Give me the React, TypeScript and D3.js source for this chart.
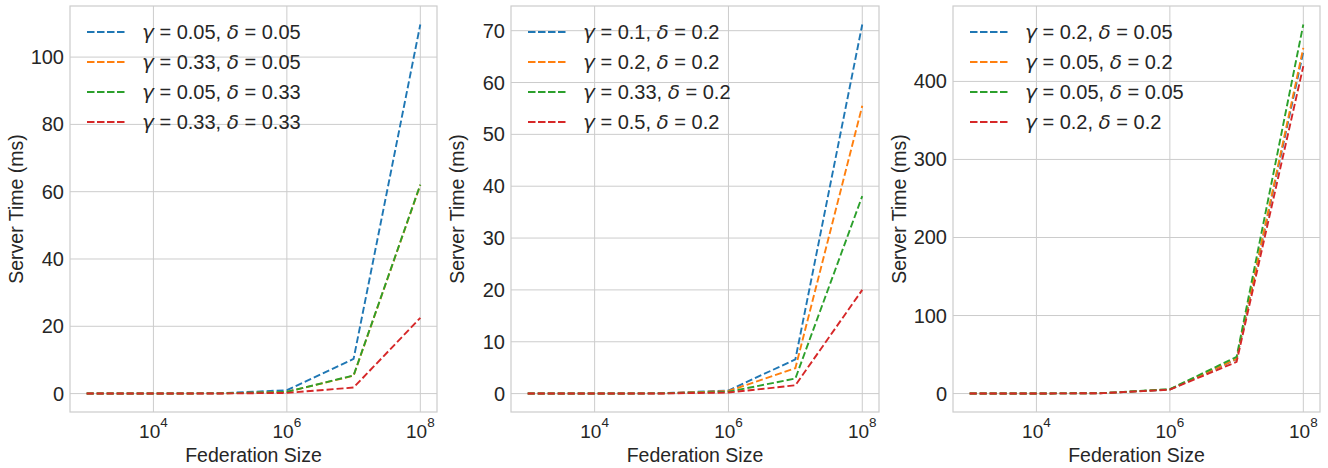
import React from "react";
import * as d3 from "d3";

const xValues = [1e3, 1e4, 1e5, 1e6, 1e7, 1e8];
const xTickValues = [1e4, 1e6, 1e8];
const xTickExps = ["4", "6", "8"];

// Panel 1
const p1Labels = [
  ["0.05", "0.05"],
  ["0.33", "0.05"],
  ["0.05", "0.33"],
  ["0.33", "0.33"],
];
const p1Blue = [0.01, 0.02, 0.1, 1.0, 10.3, 109.7];
const p1Orange = [0.01, 0.02, 0.06, 0.5, 5.3, 62.0];
const p1Green = [0.01, 0.02, 0.06, 0.5, 5.4, 62.1];
const p1Red = [0.01, 0.01, 0.03, 0.2, 1.8, 22.5];
const p1Ticks = [0, 20, 40, 60, 80, 100];

// Panel 2
const p2Labels = [
  ["0.1", "0.2"],
  ["0.2", "0.2"],
  ["0.33", "0.2"],
  ["0.5", "0.2"],
];
const p2Blue = [0.01, 0.01, 0.06, 0.6, 6.6, 71.2];
const p2Orange = [0.01, 0.01, 0.05, 0.5, 4.9, 55.5];
const p2Green = [0.01, 0.01, 0.04, 0.35, 2.9, 38.1];
const p2Red = [0.01, 0.01, 0.02, 0.2, 1.6, 20.0];
const p2Ticks = [0, 10, 20, 30, 40, 50, 60, 70];

// Panel 3
const p3Labels = [
  ["0.2", "0.05"],
  ["0.05", "0.2"],
  ["0.05", "0.05"],
  ["0.2", "0.2"],
];
const p3Blue = [0.01, 0.05, 0.5, 5.2, 44, 438];
const p3Orange = [0.01, 0.05, 0.5, 5.3, 44.5, 443];
const p3Green = [0.01, 0.05, 0.55, 5.6, 47, 473];
const p3Red = [0.01, 0.05, 0.5, 5.0, 40.6, 419.6];
const p3Ticks = [0, 100, 200, 300, 400];

const colors = ["#1f77b4", "#ff7f0e", "#2ca02c", "#d62728"];
const FONT = "'Liberation Sans', Arial, sans-serif";
const MATH = "'DejaVu Sans', sans-serif";
const TEXT = "#262626";
const GRID = "#cccccc";
const FS = 20;
const LFS = 19.5;

type PanelProps = {
  left: number;
  right: number;
  top: number;
  bottom: number;
  series: number[][];
  labels: string[][];
  yTicks: number[];
};

function Panel({ left, right, top, bottom, series, labels, yTicks }: PanelProps) {
  const x = d3.scaleLog().domain([Math.pow(10, 2.75), Math.pow(10, 8.25)]).range([left, right]);
  const all = series.flat();
  const mn = d3.min(all) as number;
  const mx = d3.max(all) as number;
  const pad = (mx - mn) * 0.05;
  const y = d3.scaleLinear().domain([mn - pad, mx + pad]).range([bottom, top]);
  const line = d3
    .line<number>()
    .x((_, i) => x(xValues[i]))
    .y((d) => y(d));
  const cx = (left + right) / 2;
  const cy = (top + bottom) / 2;
  return (
    <g>
      {xTickValues.map((t) => (
        <line key={"gx" + t} x1={x(t)} x2={x(t)} y1={top} y2={bottom} stroke={GRID} strokeWidth={1} />
      ))}
      {yTicks.map((t) => (
        <line key={"gy" + t} x1={left} x2={right} y1={y(t)} y2={y(t)} stroke={GRID} strokeWidth={1} />
      ))}
      <rect x={left} y={top} width={right - left} height={bottom - top} fill="none" stroke={GRID} strokeWidth={1.2} />
      {series.map((s, i) => (
        <path
          key={"s" + i}
          d={line(s) || ""}
          fill="none"
          stroke={colors[i]}
          strokeWidth={1.9}
          strokeDasharray="7,3"
        />
      ))}
      {yTicks.map((t) => (
        <text
          key={"ty" + t}
          x={left - 6}
          y={y(t)}
          dy="0.35em"
          textAnchor="end"
          fontSize={FS}
          fontFamily={FONT}
          fill={TEXT}
        >
          {t}
        </text>
      ))}
      {xTickValues.map((t, i) => (
        <text
          key={"tx" + t}
          x={x(t)}
          y={438}
          textAnchor="middle"
          fontSize={19}
          fontFamily={FONT}
          fill={TEXT}
        >
          10
          <tspan dy={-11.5} fontSize={13.5}>
            {xTickExps[i]}
          </tspan>
        </text>
      ))}
      <text x={cx} y={462} textAnchor="middle" fontSize={LFS} fontFamily={FONT} fill={TEXT}>
        Federation Size
      </text>
      <text
        transform={`translate(${left - 47},${cy}) rotate(-90)`}
        textAnchor="middle"
        fontSize={LFS}
        fontFamily={FONT}
        fill={TEXT}
      >
        Server Time (ms)
      </text>
      {labels.map((lb, i) => {
        const ry = 32 + i * 30;
        return (
          <g key={"lg" + i}>
            <line
              x1={left + 17}
              x2={left + 55}
              y1={ry}
              y2={ry}
              stroke={colors[i]}
              strokeWidth={1.9}
              strokeDasharray="7.5,2.5"
            />
            <text x={left + 72} y={ry} dy="0.35em" fontSize={FS} fontFamily={FONT} fill={TEXT}>
              <tspan fontStyle="italic" fontFamily={MATH}>γ</tspan>
              {` = ${lb[0]}, `}
              <tspan fontStyle="italic" fontFamily={MATH}>δ</tspan>
              {` = ${lb[1]}`}
            </text>
          </g>
        );
      })}
    </g>
  );
}

export default function App() {
  return (
    <svg
      width={1328}
      height={468}
      style={{ position: "absolute", left: 0, top: 0, background: "#ffffff" }}
    >
      <rect x={0} y={0} width={1328} height={468} fill="#ffffff" />
      <Panel
        left={70}
        right={437}
        top={6}
        bottom={412}
        series={[p1Blue, p1Orange, p1Green, p1Red]}
        labels={p1Labels}
        yTicks={p1Ticks}
      />
      <Panel
        left={511}
        right={879}
        top={6}
        bottom={412}
        series={[p2Blue, p2Orange, p2Green, p2Red]}
        labels={p2Labels}
        yTicks={p2Ticks}
      />
      <Panel
        left={953}
        right={1320}
        top={6}
        bottom={412}
        series={[p3Blue, p3Orange, p3Green, p3Red]}
        labels={p3Labels}
        yTicks={p3Ticks}
      />
    </svg>
  );
}
